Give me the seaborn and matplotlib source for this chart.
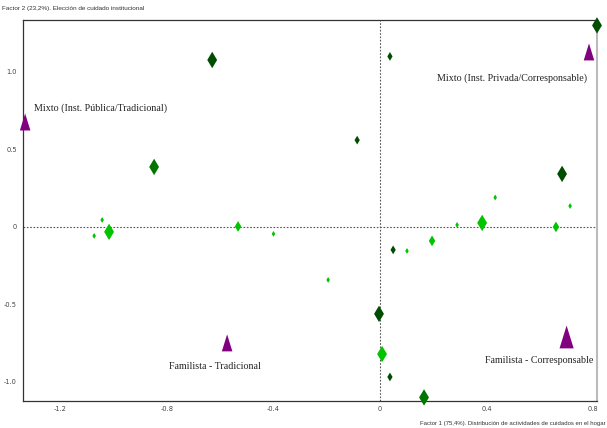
import numpy as np
import pandas as pd
import matplotlib
matplotlib.use('Agg')
import matplotlib.pyplot as plt
from matplotlib.markers import MarkerStyle
import seaborn as sns

# category points (diamonds)
cat_x = [-0.63, 0.037, -0.086, -0.848, 0.814, 0.683, 0.049, -0.004, 0.037, 0.165,
         -1.043, -1.073, -1.017, -0.533, -0.40, 0.289, 0.383, 0.432, 0.66, 0.713,
         0.195, 0.101, -0.195, 0.0075]
cat_y = [1.077, 1.10, 0.56, 0.387, 1.30, 0.342, -0.148, -0.561, -0.968, -1.10,
         0.045, -0.058, -0.032, 0.003, -0.045, 0.013, 0.026, 0.19, 0.0, 0.135,
         -0.09, -0.155, -0.342, -0.82]
cat_tone = ['dark', 'dark', 'dark', 'mid', 'dark', 'dark', 'dark', 'dark', 'dark', 'mid',
            'light', 'light', 'light', 'light', 'light', 'light', 'light', 'light', 'light', 'light',
            'light', 'light', 'light', 'light']
cat_weight = ['large', 'small', 'small', 'large', 'large', 'large', 'small', 'large', 'small', 'large',
              'tiny', 'tiny', 'large', 'medium', 'tiny', 'tiny', 'large', 'tiny', 'medium', 'tiny',
              'medium', 'tiny', 'tiny', 'large']

# cluster centres (triangles)
grp_names = ['Mixto (Inst. Pública/Tradicional)', 'Mixto (Inst. Privada/Corresponsable)',
             'Familista - Tradicional', 'Familista - Corresponsable']
grp_x = [-1.332, 0.784, -0.574, 0.70]
grp_y = [0.677, 1.129, -0.748, -0.71]
grp_weight = ['normal', 'normal', 'normal', 'big']

x_ticks = [-1.2, -0.8, -0.4, 0, 0.4, 0.8]
x_ticklabels = ['-1.2', '-0.8', '-0.4', '0', '0.4', '0.8']
y_ticks = [1.0, 0.5, 0, -0.5, -1.0]
y_ticklabels = ['1.0', '0.5', '0', '-0.5', '-1.0']

xlabel = 'Factor 1 (75,4%). Distribución de actividades de cuidados en el hogar'
ylabel = 'Factor 2 (23,2%). Elección de cuidado institucional'

cats = pd.DataFrame({'x': cat_x, 'y': cat_y, 'tone': cat_tone, 'weight': cat_weight})
grps = pd.DataFrame({'x': grp_x, 'y': grp_y, 'name': grp_names, 'weight': grp_weight})

sns.set_style('white')
fig = plt.figure(figsize=(6.07, 4.28), dpi=100)
ax = fig.add_axes([0.0379, 0.0631, 0.9456, 0.8902])

ax.axhline(0, color='#555555', lw=0.8, ls=(0, (1.5, 1.5)), zorder=1)
ax.axvline(0, color='#555555', lw=0.8, ls=(0, (1.5, 1.5)), zorder=1)

sns.scatterplot(data=cats, x='x', y='y', hue='tone', size='weight', ax=ax,
                palette={'dark': '#004d00', 'mid': '#007500', 'light': '#00c400'},
                sizes={'large': 70, 'medium': 30, 'small': 20, 'tiny': 9},
                marker='d', linewidth=0, legend=False, zorder=3, clip_on=False)

# tall triangle marker
tri = MarkerStyle([(-0.62, -1.0), (0.62, -1.0), (0.0, 1.0)])
sns.scatterplot(data=grps, x='x', y='y', size='weight', ax=ax,
                sizes={'normal': 150, 'big': 270}, color='#800080',
                marker=tri, linewidth=0, legend=False, zorder=3, clip_on=False)

label_font = dict(family='Liberation Serif', fontsize=7.2, color='#222222')
offsets = [(6.5, 10, 'left'), (-1.5, -19, 'right'), (-9, -17, 'center'), (19.5, -17, 'right')]
for name, gx, gy, (dx, dy, ha) in zip(grp_names, grp_x, grp_y, offsets):
    ax.annotate(name, (gx, gy), xytext=(dx, dy), textcoords='offset points',
                ha=ha, va='center', **label_font)

ax.set_xlim(-1.34, 0.814)
ax.set_ylim(-1.123, 1.335)
ax.set_xticks(x_ticks)
ax.set_xticklabels(x_ticklabels)
ax.set_yticks(y_ticks)
ax.set_yticklabels(y_ticklabels)
ax.tick_params(axis='both', labelsize=4.8, labelcolor='#444444', color='#555555',
               length=3, width=0.6, direction='inout', pad=2)
ax.tick_params(axis='y', direction='out', length=2.5)
ax.set_xlabel('')
ax.set_ylabel('')

for side in ['left', 'bottom', 'top']:
    ax.spines[side].set_color('#333333')
    ax.spines[side].set_linewidth(0.9)
ax.spines['right'].set_color('#bbbbbb')
ax.spines['right'].set_linewidth(1.5)

fig.text(0.003, 0.985, ylabel, fontsize=4.6, color='#333333', family='Liberation Sans',
         ha='left', va='top')
fig.text(0.997, 0.005, xlabel, fontsize=4.3, color='#333333', family='Liberation Sans',
         ha='right', va='bottom')

fig.savefig('out.png', dpi=100)
